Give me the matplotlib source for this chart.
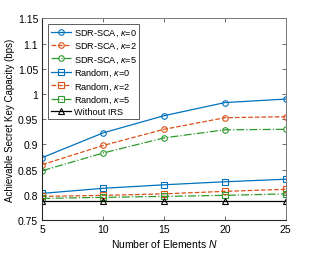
import matplotlib.pyplot as plt
import numpy as np

plt.rcParams['font.family'] = ['Liberation Sans', 'DejaVu Sans']
plt.rcParams['mathtext.fontset'] = 'custom'
plt.rcParams['mathtext.it'] = 'Liberation Sans:italic'
plt.rcParams['mathtext.rm'] = 'Liberation Sans'

elements = [5, 10, 15, 20, 25]

sdr_k0 = [0.874, 0.923, 0.957, 0.983, 0.990]
sdr_k2 = [0.860, 0.898, 0.930, 0.953, 0.955]
sdr_k5 = [0.848, 0.883, 0.913, 0.929, 0.930]
rand_k0 = [0.803, 0.813, 0.820, 0.826, 0.831]
rand_k2 = [0.797, 0.799, 0.802, 0.807, 0.811]
rand_k5 = [0.793, 0.795, 0.797, 0.799, 0.802]
no_irs = [0.787, 0.787, 0.787, 0.787, 0.787]

blue = '#0072BD'
orange = '#D95319'
green = '#2E9A2E'

fig = plt.figure(figsize=(3.16, 2.55), dpi=100)
ax = fig.add_axes([0.134, 0.133, 0.770, 0.791])

mk = dict(markersize=4, markerfacecolor='none', markeredgewidth=0.8, linewidth=0.9)
ax.plot(elements, sdr_k0, '-o', color=blue, label=r'SDR-SCA, $\kappa$=0', **mk)
ax.plot(elements, sdr_k2, '--o', color=orange, label=r'SDR-SCA, $\kappa$=2', **mk)
ax.plot(elements, sdr_k5, '-.o', color=green, label=r'SDR-SCA, $\kappa$=5', **mk)
ax.plot(elements, rand_k0, '-s', color=blue, label=r'Random, $\kappa$=0', **mk)
ax.plot(elements, rand_k2, '--s', color=orange, label=r'Random, $\kappa$=2', **mk)
ax.plot(elements, rand_k5, '-.s', color=green, label=r'Random, $\kappa$=5', **mk)
ax.plot(elements, no_irs, '-^', color='black', label='Without IRS', **mk)

ax.set_xlim(5, 25)
ax.set_ylim(0.75, 1.15)
ax.set_xticks(elements)
ax.set_yticks(np.arange(0.75, 1.151, 0.05))
ax.set_yticklabels(['0.75', '0.8', '0.85', '0.9', '0.95', '1', '1.05', '1.1', '1.15'])
ax.tick_params(direction='in', top=True, right=True, labelsize=7.5, length=3,
               width=0.6, color='#555555', pad=3)
for side in ['left', 'bottom']:
    ax.spines[side].set_color('#262626')
    ax.spines[side].set_linewidth(0.8)
for side in ['top', 'right']:
    ax.spines[side].set_color('#777777')
    ax.spines[side].set_linewidth(0.7)

ax.set_xlabel(r'Number of Elements $N$', fontsize=7.5, labelpad=2)
ax.set_ylabel('Achievable Secret Key Capacity (bps)', fontsize=7, labelpad=2)

leg = ax.legend(loc='upper left', fontsize=6.6, frameon=True, fancybox=False,
                edgecolor='#333333', handlelength=2.2, handletextpad=0.3,
                labelspacing=0.22, borderpad=0.3, borderaxespad=0.6)
leg.get_frame().set_linewidth(0.7)

fig.savefig('out.png', dpi=100)
